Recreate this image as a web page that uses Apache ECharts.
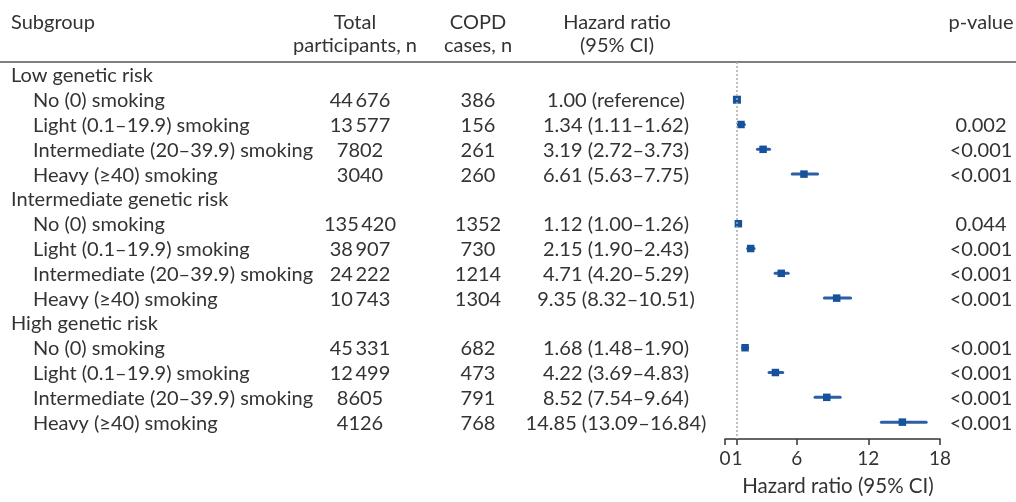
<!DOCTYPE html>
<html><head><meta charset="utf-8">
<script src="https://cdn.jsdelivr.net/npm/echarts@6/dist/echarts.min.js"></script>
<style>html,body{margin:0;padding:0;background:#fff}#c{width:1016px;height:502px}</style>
</head><body><div id="c"></div>
<script>
// ---------- data ----------
const groups = ['Low genetic risk', 'Intermediate genetic risk', 'High genetic risk'];
const smoking = ['No (0) smoking', 'Light (0.1–19.9) smoking', 'Intermediate (20–39.9) smoking', 'Heavy (≥40) smoking'];
const totals = [44676, 13577, 7802, 3040, 135420, 38907, 24222, 10743, 45331, 12499, 8605, 4126];
const cases  = [386, 156, 261, 260, 1352, 730, 1214, 1304, 682, 473, 791, 768];
const hr     = [1.00, 1.34, 3.19, 6.61, 1.12, 2.15, 4.71, 9.35, 1.68, 4.22, 8.52, 14.85];
const ciLow  = [1.00, 1.11, 2.72, 5.63, 1.00, 1.90, 4.20, 8.32, 1.48, 3.69, 7.54, 13.09];
const ciHigh = [1.00, 1.62, 3.73, 7.75, 1.26, 2.43, 5.29, 10.51, 1.90, 4.83, 9.64, 16.84];
const pvals  = ['', '0.002', '<0.001', '<0.001', '0.044', '<0.001', '<0.001', '<0.001', '<0.001', '<0.001', '<0.001', '<0.001'];
const xTicks = [0, 1, 6, 12, 18];
const headerSubgroup = 'Subgroup';
const headerTotal = ['Total', 'participants, n'];
const headerCases = ['COPD', 'cases, n'];
const headerHR = ['Hazard ratio', '(95% CI)'];
const headerP = 'p-value';
const axisTitle = 'Hazard ratio (95% CI)';
const refValue = 1;

// ---------- font sizing ----------
const FONT = 'Lato';
const mctx = document.createElement('canvas').getContext('2d');
mctx.font = '20px ' + FONT;
const mw = mctx.measureText(smoking[2]).width;
const FS = Math.round(20 * 282 / mw * 2) / 2;
const AFS = Math.round(FS * 0.95 * 2) / 2;
const TXT = '#333';

// ---------- derived rows ----------
function fmtN(n) {
  const s = String(n);
  return n >= 10000 ? s.slice(0, -3) + '\u2009' + s.slice(-3) : s;
}
const rows = [];      // table rows
const forest = [];    // forest rows
let k = 0;
groups.forEach((g) => {
  rows.push({ row: rows.length, label: g, group: true });
  smoking.forEach((s) => {
    const r = rows.length;
    const hrTxt = k === 0 ? hr[k].toFixed(2) + ' (reference)'
      : hr[k].toFixed(2) + ' (' + ciLow[k].toFixed(2) + '–' + ciHigh[k].toFixed(2) + ')';
    rows.push({ row: r, label: s, group: false, total: fmtN(totals[k]), cases: String(cases[k]), hr: hrTxt, p: pvals[k] });
    forest.push([hr[k], ciLow[k], ciHigh[k], r, k === 0 ? 1 : 0]);
    k++;
  });
});

// column positions (px)
const COL = { group: 11, sub: 33, total: 360, cases: 478, hr: 616, p: 981 };

function txt(x, y, s, align, size) {
  return { type: 'text', x: x, y: y, style: { text: s, fill: TXT, font: (size || FS) + 'px ' + FONT, align: align, verticalAlign: 'middle' } };
}

const chart = echarts.init(document.getElementById('c'), null, { renderer: 'canvas' });
chart.setOption({
  animation: false,
  backgroundColor: '#fff',
  grid: { left: 725, right: 76, top: 62, bottom: 59 },
  xAxis: {
    type: 'value', min: 0, max: 18, position: 'bottom',
    axisLine: { show: true, onZero: false, lineStyle: { color: '#333', width: 1.5 } },
    axisTick: { show: true, customValues: xTicks, length: 6, lineStyle: { color: '#333', width: 1.5 } },
    axisLabel: { customValues: xTicks, color: TXT, fontSize: AFS, fontFamily: FONT, margin: 10, hideOverlap: false },
    splitLine: { show: false },
    name: axisTitle, nameLocation: 'middle', nameGap: 37,
    nameTextStyle: { color: TXT, fontSize: FS + 0.5, fontFamily: FONT, padding: [0, 0, 0, 11] }
  },
  yAxis: { type: 'value', inverse: true, min: -0.52, max: 14.68, show: false, splitLine: { show: false } },
  graphic: [
    { type: 'line', shape: { x1: 0, y1: 62, x2: 1016, y2: 62 }, style: { stroke: '#555', lineWidth: 1.5 } },
    txt(COL.group, 23, headerSubgroup, 'left'),
    txt(COL.total - 5, 23, headerTotal[0], 'center'),
    txt(COL.total - 5, 46, headerTotal[1], 'center'),
    txt(COL.cases, 23, headerCases[0], 'center'),
    txt(COL.cases, 46, headerCases[1], 'center'),
    txt(COL.hr + 1, 23, headerHR[0], 'center'),
    txt(COL.hr + 1, 46, headerHR[1], 'center'),
    txt(COL.p, 23, headerP, 'center')
  ],
  series: [
    {
      type: 'custom', name: 'table', clip: false, silent: true,
      coordinateSystem: 'cartesian2d',
      data: rows.map(r => [0, r.row]),
      encode: { x: 0, y: 1 },
      renderItem: function (params, api) {
        const r = rows[params.dataIndex];
        const y = api.coord([0, api.value(1)])[1] + 1;
        if (r.group) return { type: 'group', children: [txt(COL.group, y, r.label, 'left')] };
        return { type: 'group', children: [
          txt(COL.sub, y, r.label, 'left'),
          txt(COL.total, y, r.total, 'center'),
          txt(COL.cases, y, r.cases, 'center'),
          txt(COL.hr, y, r.hr, 'center'),
          txt(COL.p, y, r.p, 'center')
        ] };
      }
    },
    {
      type: 'custom', name: 'forest', clip: false,
      coordinateSystem: 'cartesian2d',
      data: forest,
      encode: { x: [0, 1, 2], y: 3 },
      renderItem: function (params, api) {
        const row = api.value(3);
        const p = api.coord([api.value(0), row]);
        const a = api.coord([api.value(1), row]);
        const b = api.coord([api.value(2), row]);
        const s = api.value(4) ? 8 : 7.5;
        return { type: 'group', children: [
          { type: 'line', shape: { x1: a[0], y1: a[1], x2: b[0], y2: b[1] }, style: { stroke: '#2a5ea6', lineWidth: 3, lineCap: 'round' } },
          { type: 'rect', shape: { x: p[0] - s / 2, y: p[1] - s / 2, width: s, height: s }, style: { fill: '#15529b' } }
        ] };
      },
      markLine: {
        silent: true, symbol: 'none', label: { show: false },
        lineStyle: { type: [2, 2], color: '#aaa', width: 1.5 },
        data: [{ xAxis: refValue }]
      },
      z: 3
    }
  ]
});
</script>
</body></html>
